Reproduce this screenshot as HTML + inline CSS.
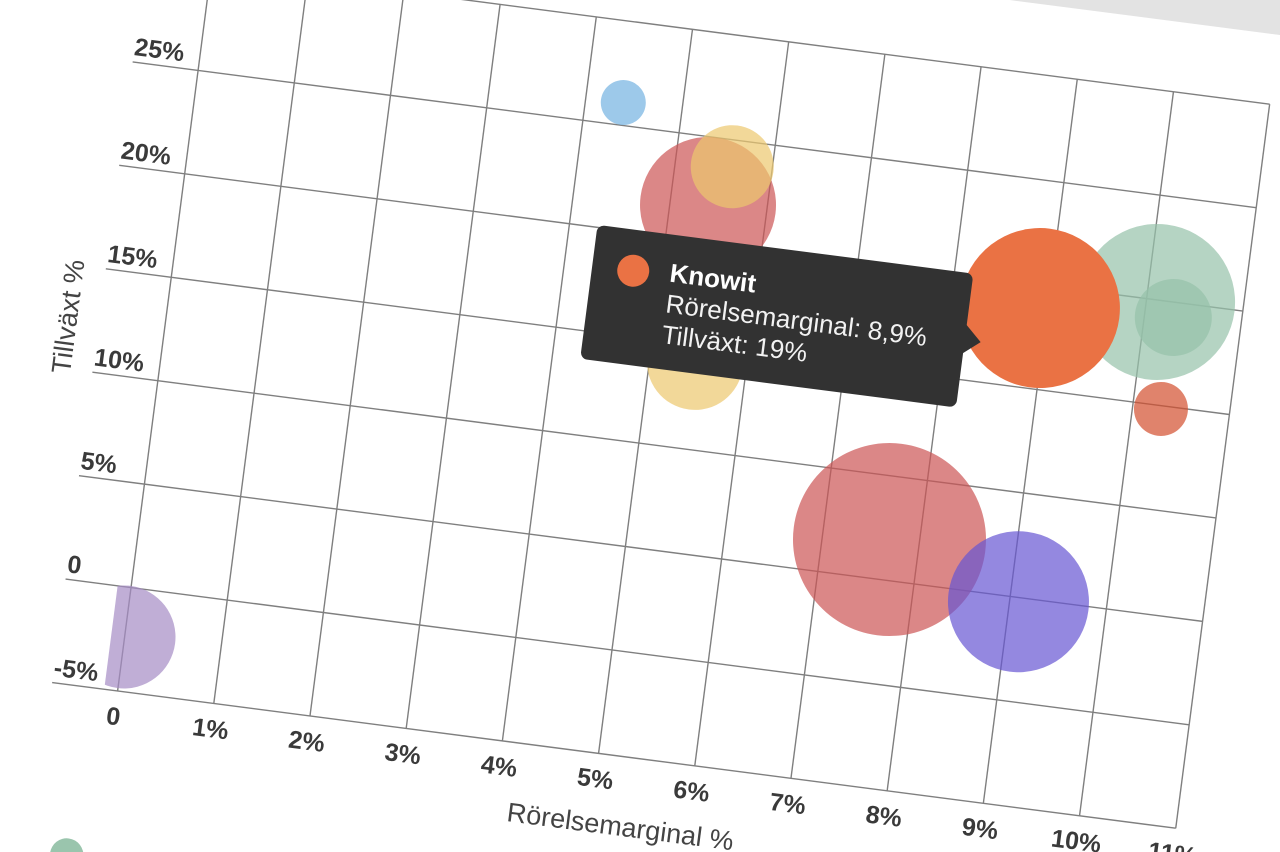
<!DOCTYPE html>
<html>
<head>
<meta charset="utf-8">
<style>
  html,body{margin:0;padding:0;background:#fff;width:1280px;height:852px;overflow:hidden;}
  svg{display:block;}
  text{font-family:"Liberation Sans", Arial, sans-serif;}
</style>
</head>
<body>
<svg width="1280" height="852" viewBox="0 0 1280 852" xmlns="http://www.w3.org/2000/svg" overflow="hidden">
  <defs>
    <clipPath id="plotclip">
      <rect x="-13.5" y="-800" width="1100" height="820"/>
    </clipPath>
  </defs>
  <rect x="0" y="0" width="1280" height="852" fill="#ffffff"/>
  <g transform="translate(117.6 691) rotate(7.39)">
    <!-- gray background beyond panel -->
    <rect x="-800" y="-1600" width="2400" height="800" fill="#e3e3e3"/>

    <!-- grid: horizontal lines -->
    <g stroke="#7f7f7f" stroke-width="1.4" fill="none">
      <line x1="-66" y1="0" x2="1067" y2="0"/>
      <line x1="-66" y1="-104.3" x2="1067" y2="-104.3"/>
      <line x1="-66" y1="-208.6" x2="1067" y2="-208.6"/>
      <line x1="-66" y1="-312.9" x2="1067" y2="-312.9"/>
      <line x1="-66" y1="-417.2" x2="1067" y2="-417.2"/>
      <line x1="-66" y1="-521.5" x2="1067" y2="-521.5"/>
      <line x1="-66" y1="-625.8" x2="1067" y2="-625.8"/>
      <line x1="-66" y1="-730.1" x2="1067" y2="-730.1"/>
      <!-- vertical lines -->
      <line x1="0" y1="0" x2="0" y2="-730.1"/>
      <line x1="97" y1="0" x2="97" y2="-730.1"/>
      <line x1="194" y1="0" x2="194" y2="-730.1"/>
      <line x1="291" y1="0" x2="291" y2="-730.1"/>
      <line x1="388" y1="0" x2="388" y2="-730.1"/>
      <line x1="485" y1="0" x2="485" y2="-730.1"/>
      <line x1="582" y1="0" x2="582" y2="-730.1"/>
      <line x1="679" y1="0" x2="679" y2="-730.1"/>
      <line x1="776" y1="0" x2="776" y2="-730.1"/>
      <line x1="873" y1="0" x2="873" y2="-730.1"/>
      <line x1="970" y1="0" x2="970" y2="-730.1"/>
      <line x1="1067" y1="0" x2="1067" y2="-730.1"/>
    </g>

    <!-- y tick labels -->
    <g font-size="25" font-weight="bold" fill="#3a3a3a" text-anchor="start">
      <text x="-66" y="-7">-5%</text>
      <text x="-66" y="-111.3">0</text>
      <text x="-66" y="-215.6">5%</text>
      <text x="-66" y="-319.9">10%</text>
      <text x="-66" y="-424.2">15%</text>
      <text x="-66" y="-528.5">20%</text>
      <text x="-66" y="-632.8">25%</text>
    </g>

    <!-- x tick labels -->
    <g font-size="25" font-weight="bold" fill="#3a3a3a" text-anchor="middle">
      <text x="-1" y="34">0</text>
      <text x="97" y="34">1%</text>
      <text x="194" y="34">2%</text>
      <text x="291" y="34">3%</text>
      <text x="388" y="34">4%</text>
      <text x="485" y="34">5%</text>
      <text x="582" y="34">6%</text>
      <text x="679" y="34">7%</text>
      <text x="776" y="34">8%</text>
      <text x="873" y="34">9%</text>
      <text x="970" y="34">10%</text>
      <text x="1067" y="34">11%</text>
    </g>

    <!-- axis titles -->
    <text x="516" y="79" font-size="27" fill="#444" text-anchor="middle">Rörelsemarginal %</text>
    <text transform="translate(-88 -365) rotate(-90)" font-size="27" fill="#444" text-anchor="middle">Tillväxt %</text>

    <!-- bubbles -->
    <g clip-path="url(#plotclip)">
      <circle cx="-0.6" cy="-54.4" r="51.5" fill="#a58bc4" fill-opacity="0.7"/>
      <circle cx="425.8" cy="-648.6" r="22.5" fill="#74b2e1" fill-opacity="0.7"/>
      <circle cx="523" cy="-557.9" r="68" fill="#cc5454" fill-opacity="0.7"/>
      <circle cx="542.1" cy="-599" r="41.5" fill="#ecc76d" fill-opacity="0.7"/>
      <circle cx="530.3" cy="-400.6" r="48" fill="#ecc76d" fill-opacity="0.7"/>
      <circle cx="746" cy="-249.5" r="96.5" fill="#cc5454" fill-opacity="0.7"/>
      <circle cx="881.9" cy="-204.4" r="70.5" fill="#6655d3" fill-opacity="0.7"/>
      <circle cx="980.8" cy="-519.5" r="78" fill="#95c2a9" fill-opacity="0.7"/>
      <circle cx="998.9" cy="-506.2" r="38.5" fill="#95c2a9" fill-opacity="0.7"/>
      <circle cx="998.4" cy="-413.9" r="27" fill="#d34f2d" fill-opacity="0.7"/>
      <circle cx="865.4" cy="-498.4" r="80" fill="#ea7244"/>
    </g>

    <!-- tooltip -->
    <g>
      <rect x="416" y="-524" width="379" height="135" rx="7" ry="7" fill="#323232"/>
      <path d="M794 -473 L811 -457 L794 -443 Z" fill="#323232"/>
      <circle cx="457.3" cy="-483.1" r="16" fill="#ea7244"/>
      <text x="494" y="-477" font-size="26" font-weight="bold" fill="#ffffff">Knowit</text>
      <text x="494" y="-446" font-size="26" fill="#f2f2f2">Rörelsemarginal: 8,9%</text>
      <text x="494" y="-415" font-size="26" fill="#f2f2f2">Tillväxt: 19%</text>
    </g>

    <!-- legend (partially visible) -->
    <circle cx="-29.4" cy="169.2" r="16.7" fill="#95c2a9" fill-opacity="0.95"/>
    <text x="10" y="180" font-size="26" fill="#333">Acando</text>
  </g>
</svg>
</body>
</html>
